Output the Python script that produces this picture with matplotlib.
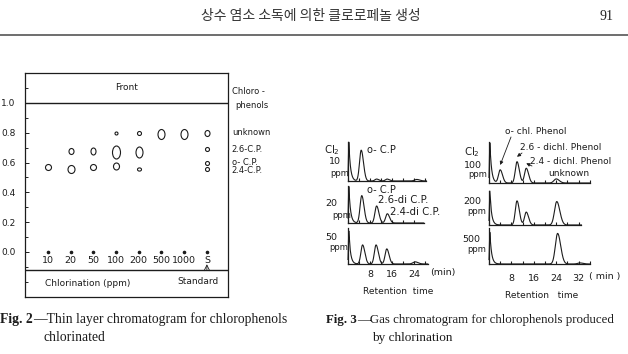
import numpy as np
import matplotlib
matplotlib.use("Agg")
import matplotlib.pyplot as plt
from matplotlib.path import Path
from matplotlib.transforms import Affine2D
from matplotlib.ticker import MultipleLocator, NullFormatter

plt.rcParams['font.family'] = ['DejaVu Sans']

# ---------------- data ----------------
header_title = "상수 염소 소독에 의한 클로로페놀 생성"
page_number = "91"

# Fig. 2 : thin layer chromatogram
tlc_lanes = ["10", "20", "50", "100", "200", "500", "1000", "S"]
tlc_rf_ticks = [0.0, 0.2, 0.4, 0.6, 0.8, 1.0]
spot_lane = [0, 1, 1, 2, 2, 3, 3, 3, 4, 4, 4, 5, 6, 7, 7, 7, 7]
spot_rf = [0.57, 0.68, 0.56, 0.68, 0.57, 0.80, 0.67, 0.58, 0.80, 0.67, 0.56,
           0.79, 0.79, 0.80, 0.69, 0.60, 0.56]
spot_w = [6, 5, 7, 5, 6, 3, 8, 6, 4, 7, 5, 7, 7, 5, 4, 4, 4]
spot_h = [6, 6, 8, 7, 6, 3, 13, 7, 4, 11, 4, 10, 10, 6, 4, 4, 4]
std_names = ["unknown", "2.6-C.P.", "o- C.P.", "2.4-C.P."]
std_rf = [0.805, 0.69, 0.60, 0.545]

# Fig. 3 : gas chromatograms (retention time, min ; relative peak height)
gc_ticks_left = [8, 16, 24]
gc_ticks_right = [8, 16, 24, 32]
gc_doses_left = ["10", "20", "50"]
gc_doses_right = ["100", "200", "500"]
solvent_left = [1.0, 1.0, 0.92]
solvent_right = [1.0, 1.0, 0.90]
gc10_rt = [4.8, 10.4, 14.2, 25.0]
gc10_h = [0.79, 0.05, 0.05, 0.04]
gc20_rt = [5.0, 10.4, 14.3]
gc20_h = [0.74, 0.46, 0.25]
gc50_rt = [5.3, 10.2, 14.1, 24.4]
gc50_h = [0.53, 0.53, 0.42, 0.06]
gc100_rt = [4.0, 10.0, 13.3, 24.0]
gc100_h = [0.32, 0.52, 0.36, 0.10]
gc200_rt = [10.0, 13.3, 24.2]
gc200_h = [0.71, 0.38, 0.69]
gc500_rt = [24.5, 32.5]
gc500_h = [0.85, 0.03]

# ---------------- figure ----------------
W, H = 628, 354
fig = plt.figure(figsize=(W / 100, H / 100), dpi=100)
INK = '#1c1c1c'


def fx(x):
    return x / W


def fy(y):
    return 1 - y / H


def px_axes(x0, y0, x1, y1):
    return fig.add_axes([x0 / W, 1 - y1 / H, (x1 - x0) / W, (y1 - y0) / H])


def ptext(x, y, s, **kw):
    kw.setdefault('color', INK)
    return fig.text(fx(x), fy(y), s, **kw)


# header
ptext(311, 16, header_title, ha='center', va='center', fontsize=10,
      family=['Noto Sans CJK KR', 'DejaVu Sans'], color='#333333')
ptext(607, 17, page_number, ha='center', va='center', fontsize=10,
      family='Liberation Serif', color='#222222')
fig.add_artist(plt.Line2D([0, 1], [fy(35), fy(35)], color='#555555', lw=1.2))

# ---------------- Fig. 2 ----------------
ax = px_axes(25, 73, 228, 297)
ax.set_xlim(-1.013, 7.93)
ax.set_ylim(-0.302, 1.201)
for sp in ax.spines.values():
    sp.set_linewidth(0.9)
    sp.set_color(INK)
ax.axhline(1.0, color=INK, lw=1.0)
ax.axhline(-0.121, color=INK, lw=1.0)
ax.set_xticks([])
ax.set_yticks(tlc_rf_ticks)
ax.set_yticklabels([f"{v:.1f}" for v in tlc_rf_ticks])
ax.yaxis.set_minor_locator(MultipleLocator(0.1))
ax.tick_params(axis='y', which='major', direction='in', length=3, width=0.7,
               pad=7, labelsize=6.5, colors=INK)
ax.tick_params(axis='y', which='minor', direction='in', length=2, width=0.6)

for lx, rf, w, h in zip(spot_lane, spot_rf, spot_w, spot_h):
    mk = Path.unit_circle().transformed(Affine2D().scale(w, h))
    ax.plot([lx], [rf], marker=mk, ms=h * 0.72, mfc='none', mec=INK, mew=0.8,
            ls='none')
lanes_x = np.arange(len(tlc_lanes))
ax.plot(lanes_x, np.zeros(len(tlc_lanes)), 'o', ms=1.6, color=INK)
for i, lab in enumerate(tlc_lanes):
    ax.text(i, -0.055, lab, ha='center', va='center', fontsize=6.8, color=INK)
ax.annotate('', xy=(7, -0.082), xytext=(7, -0.121),
            arrowprops=dict(arrowstyle='->', lw=0.6, color=INK,
                            shrinkA=0, shrinkB=0))
for name, rf in zip(std_names, std_rf):
    ax.text(8.1, rf, name, ha='left', va='center', fontsize=6, color=INK,
            clip_on=False)
ptext(127, 88, "Front", ha='center', va='center', fontsize=6.5)
ptext(88, 283, "Chlorination (ppm)", ha='center', va='center', fontsize=6.5)
ptext(198, 282, "Standard", ha='center', va='center', fontsize=6.5)
ptext(232, 92, "Chloro -", ha='left', va='center', fontsize=6)
ptext(235, 105, "phenols", ha='left', va='center', fontsize=6)


# ---------------- Fig. 3 ----------------
def trace(t, rts, hs, solvent):
    t0 = 0.3
    y = np.where(t < t0, solvent * np.exp(-0.5 * ((t - t0) / 0.15) ** 2),
                 solvent * np.exp(-(t - t0) / 0.6))
    for rt, h in zip(rts, hs):
        s = 0.72 if rt < 20 else 0.95
        sig = np.where(t < rt, 0.85 * s, 1.15 * s)
        y = y + h * np.exp(-0.5 * ((t - rt) / sig) ** 2)
    return y


def gc_panel(x0, scale, top, base, tmax, rts, hs, solvent, ticks=None):
    a = px_axes(x0, top, x0 + tmax * scale, base)
    a.set_xlim(0, tmax)
    a.set_ylim(0, 1)
    for k in ('top', 'right'):
        a.spines[k].set_visible(False)
    for k in ('left', 'bottom'):
        a.spines[k].set_linewidth(0.9)
        a.spines[k].set_color(INK)
    a.set_yticks([])
    t = np.linspace(0, tmax, 800)
    a.plot(t, trace(t, rts, hs, solvent), color=INK, lw=0.8, clip_on=False)
    a.xaxis.set_minor_locator(MultipleLocator(4))
    a.xaxis.set_minor_formatter(NullFormatter())
    if ticks is None:
        a.set_xticks([])
    else:
        a.set_xticks(ticks)
        a.set_xticklabels([str(v) for v in ticks])
    a.tick_params(axis='x', which='both', direction='in', length=2, width=0.8,
                  labelsize=6.8, pad=4, colors=INK)
    return a


gl_tops, gl_bases, gl_tmax = [142, 186, 228], [181, 223, 264], [28.5, 27.5, 29]
gr_tops, gr_bases, gr_tmax = [142, 191, 228], [183, 225, 264], [36, 33, 36]
left_rts, left_hs = [gc10_rt, gc20_rt, gc50_rt], [gc10_h, gc20_h, gc50_h]
right_rts, right_hs = [gc100_rt, gc200_rt, gc500_rt], [gc100_h, gc200_h, gc500_h]

lax = []
for i in range(3):
    lax.append(gc_panel(348, 2.75, gl_tops[i], gl_bases[i], gl_tmax[i],
                        left_rts[i], left_hs[i], solvent_left[i],
                        gc_ticks_left if i == 2 else None))
rax = []
for i in range(3):
    a = gc_panel(489, 2.8, gr_tops[i], gr_bases[i], gr_tmax[i],
                 right_rts[i], right_hs[i], solvent_right[i],
                 gc_ticks_right if i == 2 else None)
    if i == 2:
        a.tick_params(axis='x', pad=7)
    rax.append(a)

fs = 6.8
# left labels
ptext(332, 150, "Cl$_2$", ha='center', va='center', fontsize=fs + 0.5)
ptext(335, 161, gc_doses_left[0], ha='center', va='center', fontsize=fs)
ptext(340, 173, "ppm", ha='center', va='center', fontsize=fs - 0.8)
ptext(331, 203, gc_doses_left[1], ha='center', va='center', fontsize=fs)
ptext(342, 215, "ppm", ha='center', va='center', fontsize=fs - 0.8)
ptext(331, 238, gc_doses_left[2], ha='center', va='center', fontsize=fs)
ptext(339, 248, "ppm", ha='center', va='center', fontsize=fs - 0.8)
ptext(367, 150, "o- C.P", ha='left', va='center', fontsize=fs + 0.3)
ptext(367, 190, "o- C.P", ha='left', va='center', fontsize=fs + 0.3)
ptext(378, 200, "2.6-di C.P.", ha='left', va='center', fontsize=fs + 0.5)
ptext(390, 212, "2.4-di C.P.", ha='left', va='center', fontsize=fs + 0.5)
ptext(443, 273, "(min)", ha='center', va='center', fontsize=fs)
ptext(398, 291, "Retention  time", ha='center', va='center', fontsize=6.5)

# right labels
ptext(472, 152, "Cl$_2$", ha='center', va='center', fontsize=fs + 0.5)
ptext(473, 165, gc_doses_right[0], ha='center', va='center', fontsize=fs)
ptext(478, 175, "ppm", ha='center', va='center', fontsize=fs - 0.8)
ptext(472, 202, gc_doses_right[1], ha='center', va='center', fontsize=fs)
ptext(477, 212, "ppm", ha='center', va='center', fontsize=fs - 0.8)
ptext(471, 240, gc_doses_right[2], ha='center', va='center', fontsize=fs)
ptext(477, 249, "ppm", ha='center', va='center', fontsize=fs - 0.8)
ptext(505, 132, "o- chl. Phenol", ha='left', va='center', fontsize=6.5)
ptext(520, 148, "2.6 - dichl. Phenol", ha='left', va='center', fontsize=6.5)
ptext(530, 162, "2.4 - dichl. Phenol", ha='left', va='center', fontsize=6.5)
ptext(569, 173, "unknown", ha='center', va='center', fontsize=6.5)
ptext(605, 276, "( min )", ha='center', va='center', fontsize=fs)
ptext(542, 295, "Retention   time", ha='center', va='center', fontsize=6.5)

a100 = rax[0]
arrow_from = [(511, 137), (522, 153), (532, 166)]
for (px_, py_), rt, h in zip(arrow_from, gc100_rt[:3], gc100_h[:3]):
    a100.annotate('', xy=(rt, h + 0.12), xycoords='data',
                  xytext=(fx(px_), fy(py_)), textcoords='figure fraction',
                  arrowprops=dict(arrowstyle='-|>', lw=0.6, color=INK,
                                  mutation_scale=5, shrinkA=0, shrinkB=0))

# captions
serif = 'Liberation Serif'


def caption(x, y, bold, rest, size):
    t1 = ptext(x, y, bold, ha='left', va='baseline', fontsize=size,
               family=serif, weight='bold')
    ann = plt.annotate(rest, xy=(1, 0), xycoords=t1, xytext=(0.5, 0),
                       textcoords='offset points', ha='left', va='bottom',
                       fontsize=size, family=serif, color=INK,
                       annotation_clip=False)
    return t1, ann


fig.sca(ax)
caption(0, 323, "Fig. 2", "—Thin layer chromatogram for chlorophenols", 9.8)
ptext(43, 341, "chlorinated", ha='left', va='baseline', fontsize=9.8,
      family=serif)
caption(326, 323, "Fig. 3", "—Gas chromatogram for chlorophenols produced", 9.3)
ptext(372, 341, "by chlorination", ha='left', va='baseline', fontsize=9.5,
      family=serif)

fig.savefig("out.png", dpi=100)
